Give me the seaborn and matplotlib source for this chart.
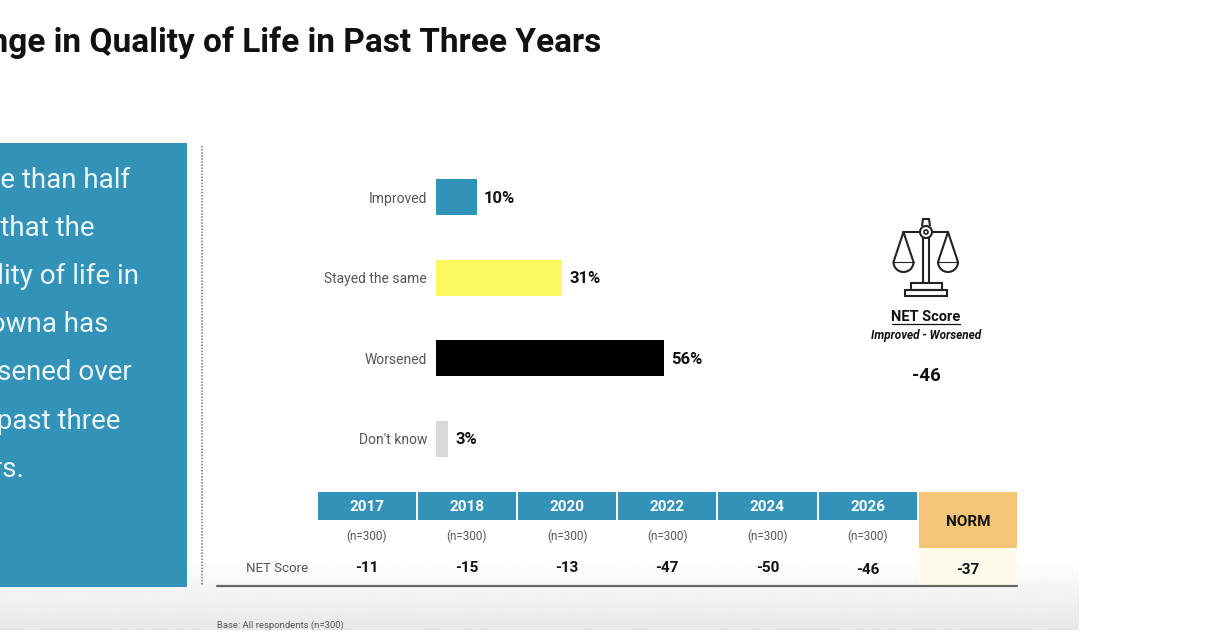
import matplotlib
matplotlib.use("Agg")
import matplotlib.pyplot as plt
from matplotlib.patches import Rectangle, Circle, Polygon, Arc
import numpy as np
import pandas as pd
import seaborn as sns

# Survey responses
responses = ["Improved", "Stayed the same", "Worsened", "Don't know"]
shares = [10, 31, 56, 3]
bar_colors = ["#3392B8", "#FBF75E", "#000000", "#D9D9D9"]

# Tracking table
years = ["2017", "2018", "2020", "2022", "2024", "2026"]
sample_sizes = ["(n=300)"] * 6
net_scores = [-11, -15, -13, -47, -50, -46]
norm_score = -37
current_net = -46

summary_lines = ["More than half", "say that the", "quality of life in", "Kelowna has",
                 "worsened over", "the past three", "years."]

sns.set_theme(style="white")
plt.rcParams["font.family"] = ["Roboto", "DejaVu Sans"]

BLUE = "#3392B8"
INK = "#111111"
GREY = "#555555"

fig = plt.figure(figsize=(12.27, 6.44), dpi=100, facecolor="white")

# Page layer addressed in pixels
page = fig.add_axes([0, 0, 1, 1])
page.axis("off")

# Soft grey band along the foot of the slide
ramp = np.concatenate([np.zeros(12), np.linspace(0, 1, 72)]).reshape(-1, 1)
page.imshow(1 - 0.09 * ramp, cmap="gray", vmin=0, vmax=1, aspect="auto",
            extent=(0, 1079, 630, 546), zorder=0)
page.set_xlim(0, 1227)
page.set_ylim(644, 0)

page.text(601, 43, "Change in Quality of Life in Past Three Years", ha="right", va="center",
          fontsize=24, fontweight="bold", color=INK)

# Key-finding panel
page.add_patch(Rectangle((0, 143), 187, 444, color=BLUE, lw=0, zorder=1))
for i, line in enumerate(summary_lines):
    page.text(-49, 180 + i * 48.2, line, ha="left", va="center", fontsize=20,
              color="#EAF6FA", zorder=2)

page.plot([202, 202], [146, 586], color="#777777", lw=1.1, ls=(0, (1, 1)), zorder=1)

# Tracking table
col_left = 317.5
col_step = 100.2
for i, (year, n, score) in enumerate(zip(years, sample_sizes, net_scores)):
    page.add_patch(Rectangle((col_left + i * col_step, 491.5), col_step - 2, 28, color=BLUE, lw=0, zorder=1))
    cx = col_left + i * col_step + (col_step - 2) / 2
    page.text(cx, 507, year, ha="center", va="center", fontsize=11, fontweight="bold", color="white", zorder=2)
    page.text(cx, 536, n, ha="center", va="center", fontsize=8.5, color=GREY, zorder=2)
    page.text(cx, 568 + (2 if i == 5 else 0), f"{score}", ha="center", va="center",
              fontsize=11, fontweight="bold", color=INK, zorder=2)

page.add_patch(Rectangle((919, 492), 98, 56, color="#F5C677", lw=0, zorder=1))
page.add_patch(Rectangle((919, 549), 98, 36, color="#FDFCEB", lw=0, zorder=1))
page.text(968, 522, "NORM", ha="center", va="center", fontsize=11, fontweight="bold", color=INK, zorder=2)
page.text(968, 570, f"{norm_score}", ha="center", va="center", fontsize=11, fontweight="bold", color=INK, zorder=2)
page.text(308, 568, "NET Score", ha="right", va="center", fontsize=9.5, color=GREY, zorder=2)
page.plot([217, 1017], [586, 586], color="#666666", lw=1.6, zorder=2)
page.text(217, 625, "Base: All respondents (n=300)", ha="left", va="center", fontsize=6.8, color=GREY, zorder=2)

# Balance-scale icon above the NET score
icon = dict(color="#222222", lw=1.5, zorder=3, solid_capstyle="round")
page.plot([923, 923], [238, 283], **icon)
page.plot([929, 929], [238, 283], **icon)
page.plot([903, 920], [232, 232], **icon)
page.plot([932, 948], [232, 232], **icon)
page.add_patch(Circle((926, 232), 6, fill=False, ec="#222222", lw=1.5, zorder=3))
page.add_patch(Circle((926, 232), 2, fill=False, ec="#222222", lw=1.2, zorder=3))
page.add_patch(Polygon([[922, 226], [923, 219], [929, 219], [930, 226]], closed=False, fill=False,
                       ec="#222222", lw=1.5, zorder=3))
for pan_x in (903.5, 948):
    page.plot([pan_x - 10, pan_x, pan_x + 10], [262, 232, 262], **icon)
    page.plot([pan_x - 10, pan_x + 10], [262, 262], color="#222222", lw=0.8, zorder=3)
    page.add_patch(Arc((pan_x, 262), 20, 20, theta1=0, theta2=180, ec="#222222", lw=1.5, zorder=3))
page.add_patch(Rectangle((911, 283), 31, 7, fill=False, ec="#222222", lw=1.5, zorder=3))
page.add_patch(Rectangle((905, 290), 42, 6, fill=False, ec="#222222", lw=1.5, zorder=3))

page.text(926, 317, "NET Score", ha="center", va="center", fontsize=10.5, fontweight="bold", color=INK, zorder=3)
page.plot([892, 960], [323.5, 323.5], color=INK, lw=0.9, zorder=3)
page.text(926, 335, "Improved - Worsened", ha="center", va="center", fontsize=8.5, fontweight="bold",
          style="italic", color=INK, zorder=3)
page.text(926, 376, f"{current_net}", ha="center", va="center", fontsize=13.5, fontweight="bold", color=INK, zorder=3)

# Response bars, 244 px across for 60 points
W, H = 1227, 644
chart = fig.add_axes([436 / W, 1 - 479 / H, 244 / W, 322 / H])
chart.patch.set_alpha(0)
frame = pd.DataFrame({"response": responses, "share": shares})
sns.barplot(data=frame, y="response", x="share", hue="response", order=responses, hue_order=responses,
            palette=bar_colors, saturation=1, width=0.45, dodge=False, legend=False, ax=chart, linewidth=0)
chart.set_xlim(0, 60)
chart.set_ylim(3.5, -0.5)
chart.set_xlabel("")
chart.set_ylabel("")
chart.set_xticks([])
sns.despine(ax=chart, left=True, bottom=True)
chart.tick_params(axis="y", length=0, pad=6.5)
for tick in chart.get_yticklabels():
    tick.set_fontsize(10)
    tick.set_color(GREY)
for i, value in enumerate(shares):
    chart.annotate(f"{value}%", (value, i), xytext=(5, -0.7), textcoords="offset points", va="center",
                   ha="left", fontsize=12, fontweight="bold", color=INK, clip_on=False)

fig.savefig("out.png", dpi=100, facecolor="white")
